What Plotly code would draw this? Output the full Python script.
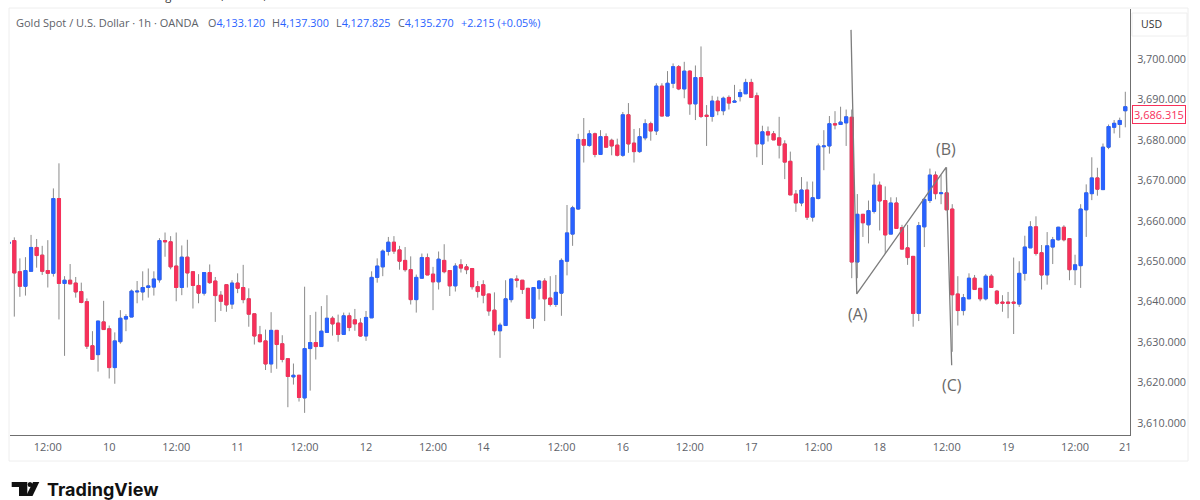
import plotly.graph_objects as go

opens = [
3654.4,3655.1,3647.4,3643.8,3647.5,3653.4,3651.5,3647.7,3647.0,3665.5,
3644.5,3645.3,3644.6,3642.5,3640.0,3629.1,3626.9,3635.0,3633.3,3623.7,
3630.1,3635.7,3636.2,3642.4,3642.4,3643.5,3643.6,3645.4,3655.1,3654.8,
3648.8,3643.5,3651.0,3647.4,3644.0,3642.1,3647.2,3645.1,3641.6,3644.2,
3639.4,3644.6,3643.5,3640.7,3637.0,3631.8,3630.3,3624.6,3632.9,3629.6,
3625.9,3621.4,3621.8,3616.2,3628.4,3629.9,3628.9,3632.4,3635.9,3634.7,
3631.9,3636.5,3635.5,3634.7,3631.5,3636.0,3646.0,3648.6,3652.4,3654.7,
3652.8,3650.2,3647.9,3640.5,3645.8,3650.9,3646.8,3644.9,3650.2,3647.7,
3643.9,3649.1,3648.6,3648.2,3643.7,3644.2,3641.9,3637.9,3632.8,3634.1,
3640.5,3645.6,3645.3,3643.3,3635.9,3643.3,3645.1,3640.9,3639.3,3642.1,
3650.0,3656.7,3662.9,3680.1,3678.6,3681.5,3676.4,3680.8,3679.9,3678.7,
3676.2,3686.2,3679.2,3677.1,3680.5,3684.0,3682.2,3693.3,3685.9,3694.0,
3698.1,3692.6,3697.0,3688.9,3695.4,3686.1,3685.8,3689.6,3687.2,3690.5,
3689.3,3690.7,3691.4,3694.2,3690.9,3679.0,3682.0,3681.5,3680.5,3679.0,
3674.7,3666.6,3664.4,3667.6,3660.9,3665.5,3678.3,3678.5,3684.0,3683.8,
3684.2,3685.6,3649.8,3661.6,3659.0,3662.3,3668.8,3665.0,3656.7,3664.4,
3658.3,3653.3,3651.2,3637.1,3658.5,3665.0,3671.3,3666.7,3666.9,3662.9,
3641.9,3637.8,3640.7,3645.8,3643.3,3640.7,3646.3,3642.6,3639.9,3639.9,
3639.9,3639.4,3647.0,3653.3,3658.5,3652.1,3646.6,3653.5,3655.3,3658.4,
3655.6,3647.9,3648.9,3662.7,3666.7,3670.6,3667.7,3678.2,3683.1,3683.8,3687.2]

highs = [
3655.1,3655.9,3650.7,3651.0,3656.5,3655.5,3653.8,3655.2,3668.0,3674.2,
3646.3,3649.3,3646.1,3644.7,3640.8,3632.7,3635.2,3640.2,3634.1,3632.4,
3637.9,3636.9,3643.0,3645.1,3647.5,3648.2,3647.5,3655.7,3657.1,3656.2,
3657.1,3653.9,3655.3,3647.4,3646.8,3647.2,3649.2,3646.1,3642.6,3644.2,
3645.3,3647.0,3649.1,3643.3,3637.0,3634.0,3633.1,3637.4,3632.9,3631.7,
3625.9,3624.7,3621.8,3643.7,3636.7,3637.5,3638.9,3641.6,3636.4,3636.8,
3637.3,3637.3,3638.2,3635.9,3637.7,3647.5,3650.7,3652.9,3656.0,3656.2,
3653.8,3653.5,3651.2,3646.7,3651.9,3651.9,3648.6,3652.4,3654.2,3647.7,
3649.5,3650.5,3649.3,3648.2,3645.1,3645.3,3641.9,3642.3,3634.8,3645.3,
3645.6,3646.5,3645.3,3643.3,3643.5,3645.3,3645.8,3646.3,3646.6,3650.7,
3663.9,3663.7,3681.5,3685.4,3682.4,3681.8,3682.4,3681.6,3680.3,3680.3,
3686.9,3689.1,3682.7,3682.9,3685.1,3684.5,3694.0,3694.0,3697.0,3698.9,
3698.5,3699.3,3697.2,3698.4,3703.1,3688.6,3690.9,3690.7,3690.7,3691.0,
3693.6,3692.5,3695.1,3695.1,3691.7,3683.5,3683.3,3682.2,3685.7,3679.9,
3677.1,3667.6,3670.8,3669.7,3669.7,3679.1,3682.4,3685.9,3687.1,3688.2,
3687.5,3687.5,3666.6,3661.6,3665.0,3671.7,3669.7,3668.5,3665.8,3665.8,
3659.0,3659.0,3651.2,3659.7,3665.3,3672.9,3672.2,3671.3,3673.2,3664.1,
3646.3,3641.9,3647.0,3646.6,3643.3,3646.8,3646.8,3642.9,3641.6,3642.4,
3650.9,3650.0,3656.3,3659.9,3661.1,3654.0,3657.2,3656.0,3658.5,3658.9,
3655.6,3651.6,3664.1,3669.0,3675.7,3673.1,3679.1,3683.8,3684.9,3685.5,3691.9]

lows = [
3654.3,3636.3,3641.2,3641.5,3647.5,3648.4,3646.6,3643.5,3646.2,3635.6,
3626.6,3644.4,3641.0,3639.6,3628.3,3625.7,3622.7,3633.1,3621.0,3619.7,
3629.6,3632.7,3636.2,3639.6,3640.3,3641.0,3641.5,3644.7,3651.1,3648.0,
3640.1,3641.6,3643.5,3638.3,3639.6,3641.5,3644.4,3635.0,3637.7,3637.5,
3638.2,3642.1,3639.6,3633.8,3629.4,3629.9,3623.1,3622.4,3623.4,3625.0,
3613.9,3619.5,3615.3,3612.5,3618.0,3625.7,3628.9,3632.4,3631.6,3630.1,
3631.9,3632.7,3632.8,3631.3,3630.3,3636.0,3644.7,3646.3,3651.4,3651.8,
3647.9,3647.4,3639.3,3637.3,3645.8,3646.6,3637.9,3643.0,3647.0,3641.4,
3642.5,3647.2,3646.8,3643.0,3641.0,3639.6,3636.5,3631.7,3626.1,3634.1,
3639.8,3643.5,3641.9,3635.9,3633.3,3640.5,3635.2,3638.8,3638.7,3636.5,
3646.5,3653.8,3662.7,3674.4,3678.3,3675.7,3676.4,3678.2,3676.2,3675.9,
3675.8,3676.8,3674.4,3676.8,3679.9,3679.8,3681.2,3685.9,3685.9,3692.8,
3692.3,3690.3,3686.2,3684.9,3685.4,3678.5,3684.5,3686.1,3686.1,3687.5,
3689.3,3689.5,3691.4,3690.5,3675.7,3673.8,3679.6,3680.0,3675.4,3670.3,
3666.4,3662.2,3663.6,3660.2,3659.8,3665.3,3672.5,3676.6,3682.6,3683.8,
3678.5,3645.8,3645.8,3656.0,3654.4,3661.8,3657.6,3651.8,3656.7,3658.1,
3653.0,3649.1,3633.8,3635.2,3653.5,3664.4,3665.3,3664.1,3662.7,3627.6,
3634.1,3636.6,3640.7,3643.0,3640.1,3640.3,3643.5,3639.2,3637.5,3635.9,
3632.0,3638.7,3645.2,3653.3,3651.4,3643.0,3644.2,3649.3,3655.1,3654.9,
3645.3,3644.1,3643.4,3656.0,3665.1,3666.2,3667.7,3677.7,3681.6,3680.5,3683.1]

closes = [
3654.7,3647.1,3643.8,3647.7,3653.4,3651.4,3647.5,3647.0,3665.5,3644.5,
3645.3,3644.4,3642.4,3639.8,3629.0,3625.7,3635.2,3633.1,3623.7,3630.3,
3635.9,3636.3,3642.6,3642.6,3643.5,3643.9,3645.6,3655.1,3654.8,3648.6,
3643.5,3651.0,3647.1,3644.0,3642.1,3647.2,3644.7,3641.5,3640.1,3639.2,
3644.6,3643.3,3640.5,3636.9,3631.5,3630.1,3624.6,3632.9,3629.4,3625.7,
3621.5,3621.8,3616.3,3628.4,3629.9,3628.9,3632.7,3635.9,3634.5,3631.9,
3636.5,3633.6,3634.5,3631.5,3636.1,3646.0,3648.8,3652.5,3654.7,3652.5,
3650.0,3647.9,3640.5,3646.0,3650.9,3646.6,3644.9,3650.5,3647.4,3643.9,
3648.8,3648.3,3647.9,3643.7,3642.5,3641.6,3637.7,3632.8,3634.2,3640.7,
3645.6,3645.3,3643.0,3635.9,3643.5,3645.1,3640.7,3639.3,3642.3,3650.2,
3657.0,3663.2,3680.1,3678.7,3681.5,3676.4,3680.8,3678.2,3678.5,3676.2,
3686.2,3679.0,3677.1,3680.8,3684.0,3682.2,3693.3,3685.9,3694.0,3698.1,
3692.6,3697.0,3688.9,3695.4,3685.8,3685.8,3689.6,3687.2,3690.3,3689.1,
3689.6,3691.7,3694.2,3690.5,3679.0,3682.0,3681.2,3680.0,3678.7,3674.5,
3666.4,3664.4,3667.6,3660.9,3665.7,3678.5,3678.5,3684.0,3683.7,3684.4,
3685.7,3649.8,3661.6,3659.5,3662.5,3668.8,3664.9,3656.5,3664.4,3658.1,
3653.0,3650.9,3637.1,3658.8,3665.3,3671.3,3666.7,3666.9,3662.7,3641.7,
3637.8,3641.0,3645.8,3643.0,3640.7,3646.3,3643.5,3639.6,3639.6,3639.6,
3639.6,3647.0,3653.5,3658.5,3651.9,3646.6,3653.8,3655.3,3658.4,3655.3,
3647.9,3649.1,3662.9,3666.9,3670.6,3667.8,3678.2,3683.3,3684.1,3684.8,3688.2]

bar_index = list(range(len(opens)))

tick_bars = [7, 18, 30, 41, 53, 64, 76, 85, 99, 110, 122, 133, 145, 156, 168, 179, 191, 200]
tick_labels = ["12:00", "10", "12:00", "11", "12:00", "12", "12:00", "14", "12:00", "16",
               "12:00", "17", "12:00", "18", "12:00", "19", "12:00", "21"]
price_ticks = [3610, 3620, 3630, 3640, 3650, 3660, 3670, 3680, 3690, 3700]

wave_bars = [150.87, 151.9, 167.9, 168.9]
wave_prices = [3707.2, 3641.9, 3673.2, 3624.3]
wave_labels = ["(A)", "(B)", "(C)"]
wave_label_bars = [152.1, 167.9, 168.9]
wave_label_prices = [3636.9, 3677.7, 3619.4]

last_price = 3686.315

BLUE = "#2962ff"
RED = "#f7305a"
GREY = "#5d6168"
WICK = "#8a8a8a"
FONT = "Open Sans"

L, R, T, B = 10, 1130, 9, 435
def px(x): return (x - L) / (R - L)
def py(y): return (B - y) / (B - T)

fig = go.Figure()

# wicks
fig.add_trace(go.Candlestick(
    x=bar_index, open=opens, high=highs, low=lows, close=closes,
    increasing=dict(line=dict(color=WICK, width=1), fillcolor=WICK),
    decreasing=dict(line=dict(color=WICK, width=1), fillcolor=WICK),
    whiskerwidth=0, showlegend=False, hoverinfo="skip"))
# bodies
fig.add_trace(go.Candlestick(
    x=bar_index, open=opens, close=closes,
    high=[max(o, c) for o, c in zip(opens, closes)],
    low=[min(o, c) for o, c in zip(opens, closes)],
    increasing=dict(line=dict(color=BLUE, width=1), fillcolor=BLUE),
    decreasing=dict(line=dict(color=RED, width=1), fillcolor=RED),
    whiskerwidth=0, showlegend=False, hoverinfo="skip"))
# hand-drawn wave
fig.add_trace(go.Scatter(x=wave_bars, y=wave_prices, mode="lines",
                         line=dict(color="#7d7d7d", width=1.3),
                         showlegend=False, hoverinfo="skip"))

ann = []
for t, b, p in zip(wave_labels, wave_label_bars, wave_label_prices):
    ann.append(dict(x=b, y=p, xref="x", yref="y", text=t, showarrow=False,
                    font=dict(family=FONT, size=16, color="#6a6a6a")))

def label(x, y, text, color=GREY, size=11, anchor="left", family=FONT, **kw):
    ann.append(dict(x=px(x), y=py(y), xref="paper", yref="paper", text=text, showarrow=False,
                    xanchor=anchor, yanchor="middle", font=dict(family=family, size=size, color=color), **kw))

label(8, -4, "MarkusFX created with TradingView.com, Nov 12, 2025 01:10 UTC", color="#333", size=11.2)
label(14, 22, "Gold Spot / U.S. Dollar · 1h · OANDA", size=11)
label(206, 22, f"O<span style='color:{BLUE}'>4,133.120</span>", size=10.8)
label(270, 22, f"H<span style='color:{BLUE}'>4,137.300</span>", size=10.8)
label(334, 22, f"L<span style='color:{BLUE}'>4,127.825</span>", size=10.8)
label(396, 22, f"C<span style='color:{BLUE}'>4,135.270</span>", size=10.8)
label(459, 22, "+2.215 (+0.05%)", color=BLUE, size=10.8)
label(1151, 24, "USD", color="#333", size=10.5, anchor="center")
label(1159, 114.4, "3,686.315", color=RED, size=11, anchor="center",
      bgcolor="white", bordercolor=RED, borderwidth=1, borderpad=1)
label(45, 489, "<b>TradingView</b>", color="#111", size=18, family="Inter")

def rect(x0, y0, x1, y1, **kw):
    return dict(type="rect", xref="paper", yref="paper", x0=px(x0), y0=py(y0), x1=px(x1), y1=py(y1), **kw)

def path(points):
    d = "M " + " L ".join(f"{px(a):.5f},{py(b):.5f}" for a, b in points) + " Z"
    return dict(type="path", xref="paper", yref="paper", path=d,
                fillcolor="#111", line=dict(width=0), layer="above")

shapes = [
    rect(9, 8, 1188, 461, line=dict(color="#eeeeee", width=1), layer="below"),
    rect(1132, 13, 1187, 36, line=dict(color="#eeeeee", width=1), layer="below"),
    path([(11.7, 482), (27.3, 482), (27.3, 496), (19, 496), (19, 487), (11.7, 487)]),
    path([(33, 482), (39.3, 482), (32.5, 496), (26, 496)]),
    dict(type="circle", xref="paper", yref="paper", x0=px(27.6), x1=px(32.4), y0=py(482), y1=py(487),
         fillcolor="#111", line=dict(width=0), layer="above"),
]

fig.update_layout(
    width=1200, height=500,
    margin=dict(l=L, r=1200 - R, t=T, b=500 - B, pad=0),
    paper_bgcolor="white", plot_bgcolor="white",
    annotations=ann, shapes=shapes,
    hovermode=False, dragmode=False, boxgap=0.2,
    font=dict(family=FONT, size=11, color=GREY),
    xaxis=dict(range=[0.23, 200.84], tickmode="array", tickvals=tick_bars, ticktext=tick_labels,
               showgrid=False, zeroline=False, showline=True, linecolor="#6f6f6f", linewidth=1,
               ticks="", ticklabelstandoff=2, tickfont=dict(family=FONT, size=11, color=GREY),
               rangeslider=dict(visible=False)),
    yaxis=dict(range=[3607.03, 3712.36], side="right", tickmode="array", tickvals=price_ticks,
               tickformat=",.3f", showgrid=False, zeroline=False, showline=True, linecolor="#6f6f6f",
               linewidth=1, ticks="", ticklabelstandoff=4, tickfont=dict(family=FONT, size=10.8, color=GREY)),
)

fig.write_html("out.html", config=dict(displayModeBar=False),
               post_script="document.body.style.margin='0';")
